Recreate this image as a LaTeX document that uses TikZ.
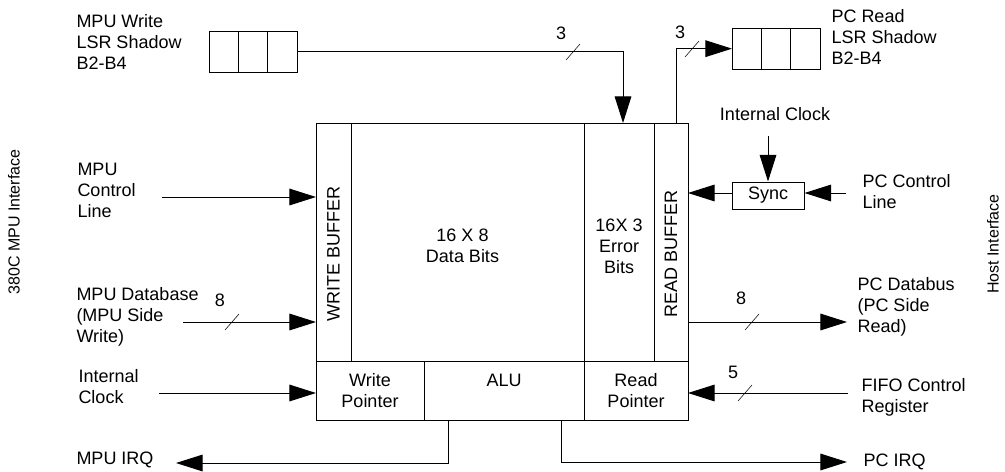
\documentclass[tikz,border=0pt]{standalone}
\usepackage{fontspec}
\setmainfont{Liberation Sans}
\usetikzlibrary{positioning,arrows.meta,calc}

\begin{document}
\begin{tikzpicture}[x=0.75pt,y=-0.75pt,line width=0.75pt,>={Triangle[length=20pt,width=12.5pt]},
  every node/.style={font=\fontsize{13.5}{15.75}\selectfont}]
\tikzstyle{cell}=[draw,outer sep=0pt,inner sep=0pt,minimum height=178.5pt]
\tikzstyle{ptr}=[draw,outer sep=0pt,inner sep=0pt,minimum height=44.25pt,align=center]
\tikzstyle{sh}=[draw,outer sep=0pt,inner sep=0pt,minimum width=22pt,minimum height=31pt]
\tikzstyle{txt}=[align=center,inner sep=0pt]
\tikzstyle{lbl}=[align=left,inner sep=0pt,anchor=west]
\tikzstyle{side}=[rotate=90,inner sep=0pt,font=\fontsize{12}{14}\selectfont]
\tikzstyle{bus}=[line width=0.4pt]
\useasboundingbox (0,0) rectangle (1005,471);

% FIFO block
\node[cell,minimum width=26.25pt,anchor=north west] (wbuf) at (316,123) {};
\node[cell,minimum width=174.75pt,right=0pt of wbuf] (data) {};
\node[cell,minimum width=52.5pt,right=0pt of data] (err) {};
\node[cell,minimum width=25.5pt,right=0pt of err] (rbuf) {};
\node[ptr,minimum width=81pt,anchor=north west] (wptr) at (wbuf.south west) {Write\\Pointer};
\node[ptr,minimum width=120pt,right=0pt of wptr] (alu) {ALU\\\mbox{}};
\node[ptr,minimum width=78pt,right=0pt of alu] (rptr) {Read\\Pointer};

\node[txt,rotate=90] (wbuft) at ($(wbuf.center)+(0,12)$) {WRITE BUFFER};
\node[txt] (datat) at ($(data.center)+(-5,4)$) {16 X 8\\Data Bits};
\node[txt] (errt) at ($(err.center)+(0,4)$) {16X 3\\Error\\Bits};
\node[txt,rotate=90] (rbuft) at ($(rbuf.center)+(0,12)$) {READ BUFFER};

% LSR shadow registers
\node[sh,anchor=north west] (ms1) at (209,31) {};
\node[sh,right=0pt of ms1] (ms2) {};
\node[sh,right=0pt of ms2] (ms3) {};
\node[sh,anchor=north west] (ps1) at (732,28) {};
\node[sh,right=0pt of ps1] (ps2) {};
\node[sh,right=0pt of ps2] (ps3) {};

\node[draw,inner sep=0pt,minimum width=54pt,minimum height=20.25pt] (sync) at (768,195.5) {Sync};

% labels
\node[lbl] (mwl) at (76,42) {MPU Write\\LSR Shadow\\B2-B4};
\node[lbl] (prl) at (831,37) {PC Read\\LSR Shadow\\B2-B4};
\node[lbl] (mcl) at (77,190) {MPU\\Control\\Line};
\node[lbl] (mdb) at (76,317) {MPU Database\\(MPU Side\\Write)};
\node[lbl] (mic) at (78,387) {Internal\\Clock};
\node[lbl] (mirq) at (76,460) {MPU IRQ};
\node[inner sep=0pt] (pic) at (775,114) {Internal Clock};
\node[lbl] (pcl) at (862,192) {PC Control\\Line};
\node[lbl] (pdb) at (857,307) {PC Databus\\(PC Side\\Read)};
\node[lbl] (fcr) at (861,397) {FIFO Control\\Register};
\node[lbl] (pirq) at (863,462) {PC IRQ};
\node[side] (mpuif) at (14,222) {380C MPU Interface};
\node[side] (hostif) at (993,244) {Host Interface};

% bus widths
\node (w3) at (561,33) {3};
\node (r3) at (680,32) {3};
\node (m8) at (220,300) {8};
\node (p8) at (741,298) {8};
\node (f5) at (733,372) {5};

\coordinate (mcl-o) at (162,197);
\coordinate (mdb-o) at (183,322);
\coordinate (mic-o) at (159,393);
\coordinate (mirq-i) at (176,463);
\coordinate (pcl-o) at (846,193);
\coordinate (pdb-i) at (847,322);
\coordinate (fcr-o) at (848,393);
\coordinate (pirq-i) at (847,462);

\draw[->] (ms3.east) -| ([xshift=3pt]err.north);
\draw[->] ([xshift=3.75pt]rbuf.north) |- (ps1.west);
\draw[->,shorten <=11.5pt] (pic.south -| sync.north) -- (sync.north);
\draw[->] (sync.west |- pcl-o) -- (pcl-o -| rbuf.east);
\draw[->] (pcl-o) -- (pcl-o -| sync.east);
\draw[->] (mcl-o) -- (mcl-o -| wbuf.west);
\draw[->] (mdb-o) -- (mdb-o -| wbuf.west);
\draw[->] (mic-o) -- (mic-o -| wptr.west);
\draw[->] (rbuf.east |- pdb-i) -- (pdb-i);
\draw[->] (fcr-o) -- (fcr-o -| rptr.east);
\draw[->] ($(alu.south west)!.15!(alu.south east)$) |- (mirq-i);
\draw[->] ($(alu.south west)!.86!(alu.south east)$) |- (pirq-i);

% bus slashes
\draw[bus] (573,52) ++(-7,8) -- ++(14,-16);
\draw[bus] (692,49) ++(-7,8) -- ++(14,-16);
\draw[bus] (232,322) ++(-7,8) -- ++(14,-16);
\draw[bus] (752,322) ++(-7,8) -- ++(14,-16);
\draw[bus] (745,393) ++(-7,8) -- ++(14,-16);
\end{tikzpicture}
\end{document}
